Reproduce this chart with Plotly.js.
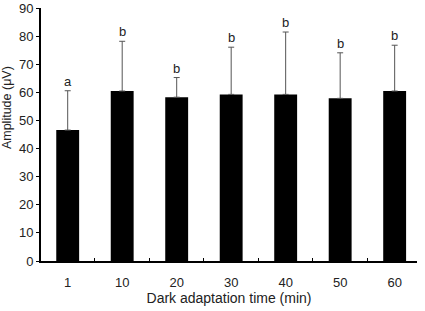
<!DOCTYPE html>
<html><head><meta charset="utf-8">
<script src="https://cdn.plot.ly/plotly-3.0.1.min.js"></script>
<style>body{margin:0;padding:0;background:#fff}#c{width:425px;height:311px}</style>
</head><body><div id="c"></div>
<script>
const categories = ["1","10","20","30","40","50","60"];
const amplitude = [46.6, 60.5, 58.3, 59.3, 59.3, 57.9, 60.5];
const errorPlus = [14.0, 17.7, 7.0, 16.8, 22.2, 16.2, 16.3];
const letters = ["a","b","b","b","b","b","b"];

const font = {family: "Liberation Sans, Arial, sans-serif", size: 14, color: "#222"};
const tickFont = {family: font.family, size: 13, color: "#222"};
const trace = {
  type: "bar", x: categories, y: amplitude, width: 0.42,
  marker: {color: "#000", line: {width: 0}},
  error_y: {type: "data", symmetric: false, array: errorPlus, arrayminus: amplitude.map(() => 0),
            color: "#555", thickness: 1, width: 3},
  hoverinfo: "none"
};
const annotations = categories.map((c, i) => ({
  x: i, y: amplitude[i] + errorPlus[i], xref: "x", yref: "y", text: letters[i],
  showarrow: false, yanchor: "bottom", yshift: 0, font: tickFont
}));
annotations.push({
  xref: "paper", yref: "paper", x: -0.09, y: 0.605, text: "Amplitude (μV)",
  textangle: -90, showarrow: false, xanchor: "center", yanchor: "middle",
  font: {family: font.family, size: 12.5, color: "#222"}
});
Plotly.newPlot("c", [trace], {
  width: 425, height: 311,
  margin: {l: 41, r: 8, t: 8, b: 50},
  paper_bgcolor: "#fff", plot_bgcolor: "#fff",
  font: font, showlegend: false,
  xaxis: {type: "category", range: [-0.49, 6.41], showline: true, linecolor: "#000", linewidth: 2,
          ticks: "inside", tickson: "boundaries", ticklen: 3, tickcolor: "#000", tickwidth: 1,
          showgrid: false, zeroline: false, tickfont: tickFont, ticklabelstandoff: 8,
          title: {text: "Dark adaptation time (min)", font: font, standoff: 5}},
  yaxis: {range: [0, 90.05], tickvals: [0,10,20,30,40,50,60,70,80,90], showline: true, linecolor: "#000", linewidth: 2,
          ticks: "outside", ticklen: 3, tickcolor: "#000", tickwidth: 1, ticklabeloverflow: "allow",
          showgrid: false, zeroline: false, tickfont: tickFont},
  annotations: annotations
}, {staticPlot: true});
</script></body></html>
